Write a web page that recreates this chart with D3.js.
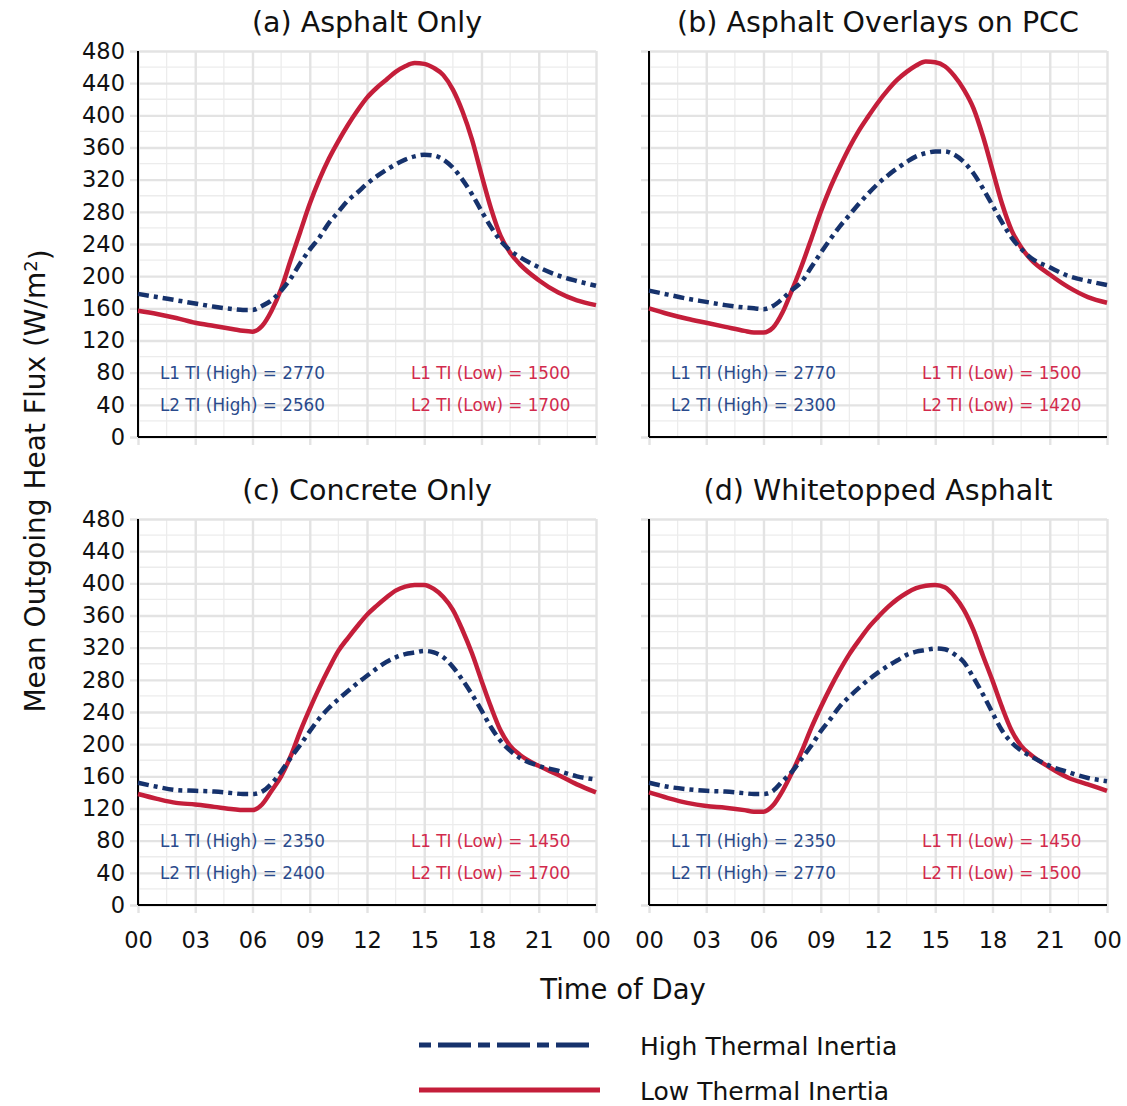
<!DOCTYPE html>
<html>
<head>
<meta charset="utf-8">
<script src="https://cdn.jsdelivr.net/npm/d3@7"></script>
<style>
  body { margin: 0; background: #fff; }
  text { font-family: "DejaVu Sans", sans-serif; fill: #111; }
</style>
</head>
<body>
<script>
// time of day (hours) shared by every series
var hours = [0, 1, 2, 3, 4, 5,
  5.5, 6, 6.5, 7, 7.5, 8, 8.5, 9, 9.5, 10, 10.5, 11, 11.5, 12, 12.5, 13, 13.5, 14, 14.5,
  15, 15.5, 16, 16.5, 17, 17.5, 18, 18.5, 19, 19.5, 20,
  21, 22, 23, 24];

var titles = ["(a) Asphalt Only", "(b) Asphalt Overlays on PCC", "(c) Concrete Only", "(d) Whitetopped Asphalt"];

// low thermal inertia (solid red)
var low_a = [157,153,148,142,138,134, 132,131,138,157,184,220,255,290,320,346,368,388,406,422,434,444,454,461,465,464,459,450,432,405,370,326,284,250,229,215, 195,180,170,164];
var low_b = [160,153,147,142,137,132, 130,130,136,155,183,213,246,280,310,336,360,381,399,416,431,444,454,462,467,466,461,449,432,409,374,332,290,257,236,221, 202,186,174,167];
var low_c = [138,132,127,125,122,119, 118,118,125,142,160,185,216,244,270,294,316,332,347,361,372,382,391,396,398,398,393,383,367,342,313,279,246,217,198,187, 173,162,150,140];
var low_d = [140,133,127,123,121,118, 116,116,124,142,165,191,220,246,270,292,312,329,345,358,370,380,388,394,397,398,395,384,367,342,310,279,246,217,198,187, 171,158,150,142];

// high thermal inertia (dash-dot blue)
var high_a = [178,174,170,166,162,159, 158,158,163,170,182,197,216,233,248,266,280,294,304,315,324,332,339,345,349,351,350,345,335,320,302,281,261,244,232,224, 211,201,194,188];
var high_b = [182,177,172,168,164,161, 160,159,163,172,183,193,211,229,246,262,276,290,303,315,325,334,342,349,353,355,355,351,342,328,309,288,267,248,234,223, 211,200,194,189];
var high_c = [152,147,143,142,141,139, 138,138,141,151,166,183,199,216,232,245,256,266,276,285,294,302,308,312,314,316,314,308,296,280,262,242,221,204,192,183, 173,167,160,156];
var high_d = [152,147,144,142,141,139, 138,138,142,154,166,182,198,216,231,247,259,270,280,289,297,304,311,315,317,319,318,312,302,283,262,239,217,202,192,185, 173,165,158,154];

// thermal inertia notes per panel
var ti_high_l1 = [2770, 2770, 2350, 2350];
var ti_high_l2 = [2560, 2300, 2400, 2770];
var ti_low_l1 = [1500, 1500, 1450, 1450];
var ti_low_l2 = [1700, 1420, 1700, 1500];

var x_ticks = [0, 3, 6, 9, 12, 15, 18, 21, 24];
var x_tick_labels = ["00", "03", "06", "09", "12", "15", "18", "21", "00"];
var y_ticks = d3.range(0, 481, 40);

var low_series = [low_a, low_b, low_c, low_d];
var high_series = [high_a, high_b, high_c, high_d];

var red = "#c41e3a", blue = "#16326c";
var red_text = "#d22a4c", blue_text = "#2a4a8c";

var W = 1127, H = 1106;
var pw = 458, ph = 386;
var origins = [[138, 51], [649, 51], [138, 519], [649, 519]];

var svg = d3.select("body").append("svg")
    .attr("width", W)
    .attr("height", H);

var x_scale = d3.scaleLinear().domain([0, 24]).range([0, pw]);
var y_scale = d3.scaleLinear().domain([0, 480]).range([ph, 0]);

var line = d3.line()
    .x(function(d) { return x_scale(d[0]); })
    .y(function(d) { return y_scale(d[1]); })
    .curve(d3.curveMonotoneX);

titles.forEach(function(title, i) {
  var g = svg.append("g")
      .attr("transform", "translate(" + origins[i][0] + "," + origins[i][1] + ")");

  // minor grid
  g.append("g").selectAll("line")
      .data(d3.range(1.5, 24, 3))
    .enter().append("line")
      .attr("x1", function(d) { return x_scale(d); })
      .attr("x2", function(d) { return x_scale(d); })
      .attr("y1", 0).attr("y2", ph)
      .style("stroke", "#ececec").style("stroke-width", 1.3);
  g.append("g").selectAll("line")
      .data(d3.range(20, 480, 40))
    .enter().append("line")
      .attr("x1", 0).attr("x2", pw)
      .attr("y1", function(d) { return y_scale(d); })
      .attr("y2", function(d) { return y_scale(d); })
      .style("stroke", "#ececec").style("stroke-width", 1.3);

  // major grid with ticks
  var y_axis = d3.axisLeft(y_scale).tickValues(y_ticks)
      .tickSize(-pw - 8).tickPadding(4)
      .tickFormat(i % 2 == 0 ? d3.format("d") : "");
  var ya = g.append("g")
      .attr("transform", "translate(-8,0)")
      .call(y_axis);
  ya.select(".domain").remove();
  ya.selectAll(".tick line").style("stroke", "#e3e3e3").style("stroke-width", 2.4);
  ya.selectAll(".tick text")
      .attr("x", -5)
      .style("font-size", "22.5px")
      .style("font-family", "DejaVu Sans")
      .style("fill", "#111");

  var x_axis = d3.axisBottom(x_scale).tickValues(x_ticks)
      .tickSize(-ph - 8).tickPadding(19)
      .tickFormat(i >= 2 ? function(d, k) { return x_tick_labels[k]; } : "");
  var xa = g.append("g")
      .attr("transform", "translate(0," + (ph + 8) + ")")
      .call(x_axis);
  xa.select(".domain").remove();
  xa.selectAll(".tick line").style("stroke", "#e3e3e3").style("stroke-width", 2.4);
  xa.selectAll(".tick text")
      .style("font-size", "22.5px")
      .style("font-family", "DejaVu Sans")
      .style("fill", "#111");

  // axis lines
  g.append("line").attr("x1", 0).attr("x2", 0).attr("y1", 0).attr("y2", ph)
      .style("stroke", "#000").style("stroke-width", 2);
  g.append("line").attr("x1", 0).attr("x2", pw).attr("y1", ph).attr("y2", ph)
      .style("stroke", "#000").style("stroke-width", 2.2);

  // title
  g.append("text")
      .attr("x", pw / 2)
      .attr("y", -19)
      .attr("text-anchor", "middle")
      .style("font-size", "28.5px")
      .text(title);

  // curves
  g.append("path")
      .datum(d3.zip(hours, low_series[i]))
      .attr("d", line)
      .style("fill", "none")
      .style("stroke", red)
      .style("stroke-width", 4.5)
      .style("stroke-linejoin", "round");
  g.append("path")
      .datum(d3.zip(hours, high_series[i]))
      .attr("d", line)
      .style("fill", "none")
      .style("stroke", blue)
      .style("stroke-width", 4.5)
      .style("stroke-dasharray", "11,5,4,5");

  // notes
  var notes = [
    {h: 1.15, v: 80, c: blue_text, t: "L1 TI (High) = " + ti_high_l1[i]},
    {h: 1.15, v: 40, c: blue_text, t: "L2 TI (High) = " + ti_high_l2[i]},
    {h: 14.3, v: 80, c: red_text, t: "L1 TI (Low) = " + ti_low_l1[i]},
    {h: 14.3, v: 40, c: red_text, t: "L2 TI (Low) = " + ti_low_l2[i]}
  ];
  g.selectAll(".note")
      .data(notes)
    .enter().append("text")
      .attr("class", "note")
      .attr("x", function(d) { return x_scale(d.h); })
      .attr("y", function(d) { return y_scale(d.v); })
      .attr("dy", "0.36em")
      .style("font-size", "16.8px")
      .style("fill", function(d) { return d.c; })
      .text(function(d) { return d.t; });
});

// y title
var yt = svg.append("text")
    .attr("transform", "translate(45,481) rotate(-90)")
    .attr("text-anchor", "middle")
    .style("font-size", "28px");
yt.append("tspan").text("Mean Outgoing Heat Flux (W/m");
yt.append("tspan").attr("dy", "-0.45em").style("font-size", "18px").text("2");
yt.append("tspan").attr("dy", "0.45em").text(")");

// x title
svg.append("text")
    .attr("x", 623)
    .attr("y", 999)
    .attr("text-anchor", "middle")
    .style("font-size", "27.5px")
    .text("Time of Day");

// legend
var legend = [
  {name: "High Thermal Inertia", color: blue, dash: "12,7,33,7", y: 1045, x2: 593},
  {name: "Low Thermal Inertia", color: red, dash: null, y: 1090, x2: 600}
];
var lg = svg.selectAll(".legend")
    .data(legend)
  .enter().append("g")
    .attr("class", "legend");
lg.append("line")
    .attr("x1", 419).attr("x2", function(d) { return d.x2; })
    .attr("y1", function(d) { return d.y; })
    .attr("y2", function(d) { return d.y; })
    .style("stroke", function(d) { return d.color; })
    .style("stroke-width", 5)
    .style("stroke-dasharray", function(d) { return d.dash; });
lg.append("text")
    .attr("x", 640)
    .attr("y", function(d) { return d.y + 1; })
    .attr("dy", "0.36em")
    .style("font-size", "25px")
    .text(function(d) { return d.name; });
</script>
</body>
</html>
